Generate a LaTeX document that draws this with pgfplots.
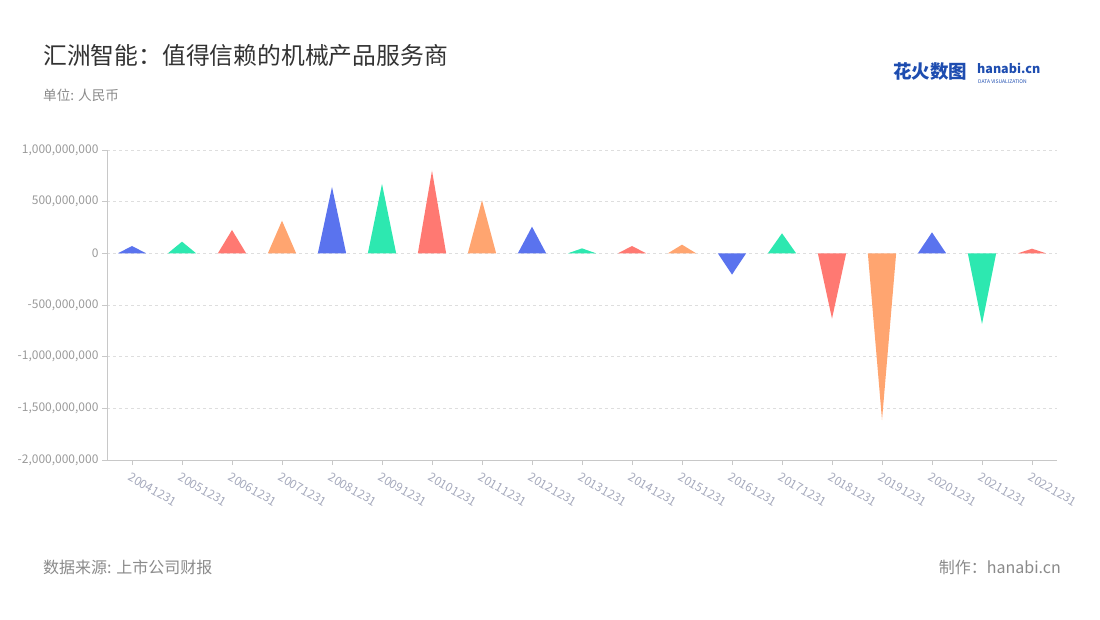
\documentclass[border=0pt]{standalone}
\usepackage{fontspec}
\setmainfont{Noto Sans CJK SC}
\usepackage{pgfplots}
\pgfplotsset{compat=1.18}
\definecolor{cblue}{HTML}{5A73EE}
\definecolor{cgreen}{HTML}{2DE8B0}
\definecolor{cred}{HTML}{FF7972}
\definecolor{corange}{HTML}{FFA570}
\definecolor{axgray}{HTML}{C8C8C8}
\definecolor{ticktext}{HTML}{9A9A9A}
\definecolor{xtext}{HTML}{A5A9BC}
\definecolor{titlec}{HTML}{333333}
\definecolor{subc}{HTML}{8A8A8A}
\definecolor{logoblue}{HTML}{1E4DB0}
\begin{document}
\begin{tikzpicture}
\useasboundingbox (0pt,0pt) rectangle (1100pt,-620pt);
\node[anchor=west,font=\fontsize{23.8}{26}\selectfont,text=titlec,inner sep=0] at (43pt,-55pt) {汇洲智能：值得信赖的机械产品服务商};
\node[anchor=west,font=\fontsize{13.6}{15}\selectfont,text=subc,inner sep=0] at (43pt,-95pt) {单位: 人民币};
\node[anchor=west,font=\fontsize{16}{18}\selectfont,text=subc,inner sep=0] at (43pt,-567pt) {数据来源: 上市公司财报};
\node[anchor=east,font=\fontsize{16}{18}\selectfont,text=subc,inner sep=0] at (1061pt,-567pt) {制作：hanabi.cn};
\node[anchor=west,font=\fontsize{18.5}{20}\selectfont\bfseries,text=logoblue,inner sep=0] at (893pt,-72pt) {花火数图};
\node[anchor=base west,font=\fontsize{12.5}{14}\selectfont\bfseries,text=logoblue,inner sep=0] at (977pt,-74pt) {hanabi.cn};
\node[anchor=west,font=\fontsize{5}{6}\selectfont,text=logoblue,inner sep=0] at (978pt,-81.5pt) {DATA VISUALIZATION};
\begin{axis}[
  at={(107pt,-460pt)}, anchor=south west,
  width=950pt, height=310pt, scale only axis,
  xmin=-0.5, xmax=18.5, ymin=-2e9, ymax=1e9,
  axis x line*=bottom, axis y line*=left,
  axis line style={axgray, line width=1pt, -},
  xtick={0,...,18},
  xticklabels={20041231,20051231,20061231,20071231,20081231,20091231,20101231,20111231,20121231,20131231,20141231,20151231,20161231,20171231,20181231,20191231,20201231,20211231,20221231},
  x tick label style={rotate=-30, anchor=north west, font=\fontsize{12}{14}\selectfont, text=xtext, xshift=0pt, yshift=-3pt},
  ytick={-2e9,-1.5e9,-1e9,-5e8,0,5e8,1e9},
  scaled y ticks=false,
  yticklabel style={font=\fontsize{12}{14}\selectfont, text=ticktext, /pgf/number format/.cd, fixed, precision=0, 1000 sep={,}, assume math mode=true},
  /pgf/number format/assume math mode=true,
  tick style={axgray, line width=0.8pt},
  tick align=outside,
  major tick length=5pt,
  ymajorgrids, grid style={dashed, color=black!13, line width=0.8pt},
  clip=false,
]
\addplot[fill=cblue, draw=none] coordinates {(-0.283,0) (0,71e6) (0.283,0)};
\addplot[fill=cgreen, draw=none] coordinates {(0.717,0) (1,113e6) (1.283,0)};
\addplot[fill=cred, draw=none] coordinates {(1.717,0) (2,226e6) (2.283,0)};
\addplot[fill=corange, draw=none] coordinates {(2.717,0) (3,316e6) (3.283,0)};
\addplot[fill=cblue, draw=none] coordinates {(3.717,0) (4,642e6) (4.283,0)};
\addplot[fill=cgreen, draw=none] coordinates {(4.717,0) (5,671e6) (5.283,0)};
\addplot[fill=cred, draw=none] coordinates {(5.717,0) (6,800e6) (6.283,0)};
\addplot[fill=corange, draw=none] coordinates {(6.717,0) (7,513e6) (7.283,0)};
\addplot[fill=cblue, draw=none] coordinates {(7.717,0) (8,258e6) (8.283,0)};
\addplot[fill=cgreen, draw=none] coordinates {(8.717,0) (9,48e6) (9.283,0)};
\addplot[fill=cred, draw=none] coordinates {(9.717,0) (10,71e6) (10.283,0)};
\addplot[fill=corange, draw=none] coordinates {(10.717,0) (11,84e6) (11.283,0)};
\addplot[fill=cblue, draw=none] coordinates {(11.717,0) (12,-206e6) (12.283,0)};
\addplot[fill=cgreen, draw=none] coordinates {(12.717,0) (13,194e6) (13.283,0)};
\addplot[fill=cred, draw=none] coordinates {(13.717,0) (14,-632e6) (14.283,0)};
\addplot[fill=corange, draw=none] coordinates {(14.717,0) (15,-1613e6) (15.283,0)};
\addplot[fill=cblue, draw=none] coordinates {(15.717,0) (16,203e6) (16.283,0)};
\addplot[fill=cgreen, draw=none] coordinates {(16.717,0) (17,-684e6) (17.283,0)};
\addplot[fill=cred, draw=none] coordinates {(17.717,0) (18,45e6) (18.283,0)};
\end{axis}
\end{tikzpicture}
\end{document}
